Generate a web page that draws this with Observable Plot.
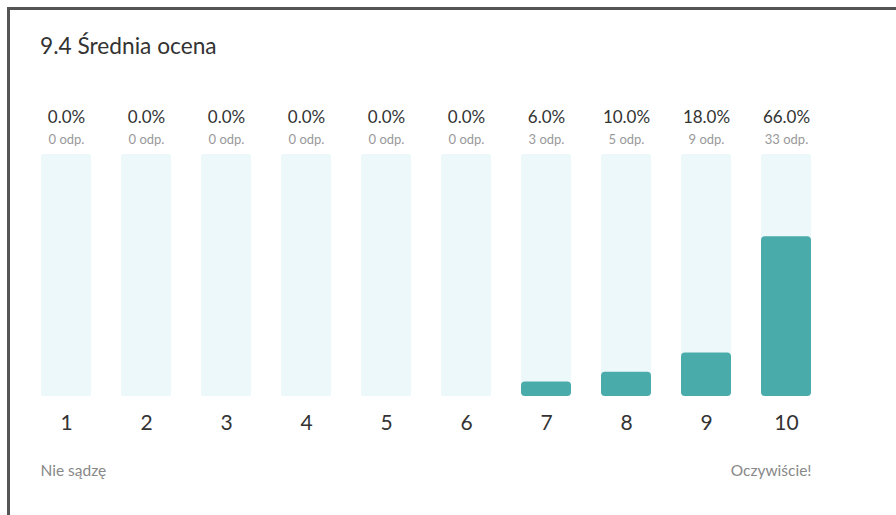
<!DOCTYPE html>
<html>
<head>
<meta charset="utf-8">
<script src="https://cdn.jsdelivr.net/npm/d3@7"></script>
<script src="https://cdn.jsdelivr.net/npm/@observablehq/plot@0.6"></script>
<style>
  html, body { margin: 0; padding: 0; background: #fff; }
  #wrap { position: relative; width: 896px; height: 515px; overflow: hidden; font-family: Lato, "Open Sans", sans-serif; }
  #frame { position: absolute; left: 7px; top: 7px; width: 900px; height: 520px; border-top: 3px solid #555; border-left: 3px solid #555; box-sizing: border-box; }
  #title { position: absolute; left: 40px; top: 33px; font-size: 22.7px; line-height: 26px; color: #333; }
  #chart { position: absolute; left: 0; top: 80px; }
</style>
</head>
<body>
<div id="wrap">
  <div id="frame"></div>
  <div id="title">9.4 Średnia ocena</div>
  <div id="chart"></div>
</div>
<script>
const ratings = ["1", "2", "3", "4", "5", "6", "7", "8", "9", "10"];
const percents = [0, 0, 0, 0, 0, 0, 6, 10, 18, 66];
const counts = [0, 0, 0, 0, 0, 0, 3, 5, 9, 33];
const lowLabel = "Nie sądzę";
const highLabel = "Oczywiście!";

const data = ratings.map((r, i) => ({rating: r, pct: percents[i], n: counts[i]}));

const chart = Plot.plot({
  width: 896,
  height: 435,
  marginLeft: 40,
  marginRight: 85,
  marginTop: 74,
  marginBottom: 119,
  style: {fontFamily: "Lato, 'Open Sans', sans-serif", background: "transparent"},
  x: {type: "band", domain: ratings, paddingInner: 0.38, paddingOuter: 0, label: null},
  y: {domain: [0, 100], axis: null},
  marks: [
    Plot.barY(data, {x: "rating", y: () => 100, fill: "#edf8fa", rx: 2}),
    Plot.barY(data, {x: "rating", y: "pct", fill: "#4aabab", rx: 4}),
    Plot.text(data, {x: "rating", text: d => d.pct.toFixed(1) + "%", frameAnchor: "top", lineAnchor: "middle", dy: -37, fontSize: 17, fill: "#333"}),
    Plot.text(data, {x: "rating", text: d => d.n + " odp.", frameAnchor: "top", lineAnchor: "middle", dy: -15, fontSize: 13, fill: "#999"}),
    Plot.axisX({tickSize: 0, tickPadding: 19, fontSize: 21, label: null}),
    Plot.text([lowLabel], {text: d => d, frameAnchor: "bottom-left", textAnchor: "start", lineAnchor: "middle", dy: 75, fontSize: 15.5, fill: "#888"}),
    Plot.text([highLabel], {text: d => d, frameAnchor: "bottom-right", textAnchor: "end", lineAnchor: "middle", dy: 75, fontSize: 15.5, fill: "#888"})
  ]
});
chart.querySelectorAll("g[aria-label='x-axis tick label']").forEach(n => n.setAttribute("fill", "#333"));
document.getElementById("chart").appendChild(chart);
</script>
</body>
</html>
